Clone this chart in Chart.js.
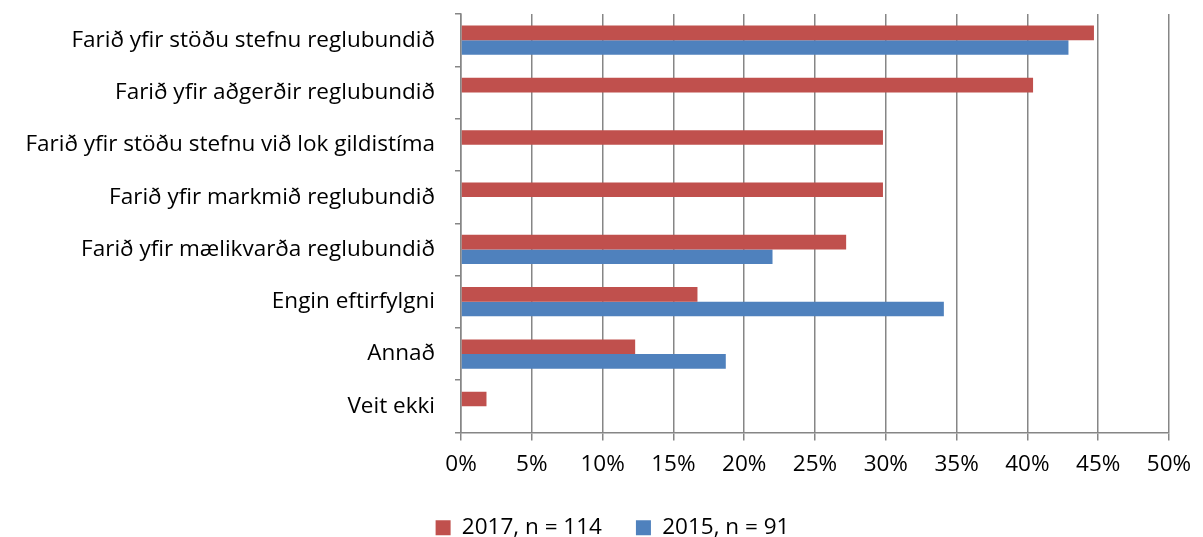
<!DOCTYPE html>
<html>
<head>
<meta charset="utf-8">
<script src="https://cdn.jsdelivr.net/npm/chart.js@4"></script>
<style>
  html, body { margin: 0; padding: 0; background: #fff; }
  #wrap { width: 1203px; height: 537px; }
</style>
</head>
<body>
<div id="wrap"><canvas id="chart" width="1203" height="537"></canvas></div>
<script>
const categories = [
  "Farið yfir stöðu stefnu reglubundið",
  "Farið yfir aðgerðir reglubundið",
  "Farið yfir stöðu stefnu við lok gildistíma",
  "Farið yfir markmið reglubundið",
  "Farið yfir mælikvarða reglubundið",
  "Engin eftirfylgni",
  "Annað",
  "Veit ekki",
];
const values2017 = [44.7, 40.4, 29.8, 29.8, 27.2, 16.7, 12.3, 1.8];
const values2015 = [42.9, null, null, null, 22.0, 34.1, 18.7, null];
const seriesLabels = ["2017, n = 114", "2015, n = 91"];
const seriesColors = ["#c0504d", "#4f81bd"];
const xTicks = [0, 5, 10, 15, 20, 25, 30, 35, 40, 45, 50];

const fontFamily = "'Open Sans', 'Noto Sans', sans-serif";
const fontSize = 22.5;
const gridGray = "#868686";

Chart.defaults.font.family = fontFamily;
Chart.defaults.color = "#000";

// the legend in the original sits a bit right of the canvas centre
const legendShift = {
  id: "legendShift",
  beforeDraw(chart) {
    chart.legend.left = 56;
  },
};

new Chart(document.querySelector("#chart"), {
  type: "bar",
  data: {
    labels: categories,
    datasets: [
      {
        label: seriesLabels[0],
        data: values2017,
        backgroundColor: seriesColors[0],
        borderWidth: 0,
        categoryPercentage: 0.56,
        barPercentage: 1.0,
      },
      {
        label: seriesLabels[1],
        data: values2015,
        backgroundColor: seriesColors[1],
        borderWidth: 0,
        categoryPercentage: 0.56,
        barPercentage: 1.0,
      },
    ],
  },
  options: {
    indexAxis: "y",
    responsive: false,
    animation: false,
    layout: {
      padding: { top: 14, right: 34, left: 0, bottom: -12 },
    },
    plugins: {
      legend: {
        position: "bottom",
        labels: {
          boxWidth: 15,
          boxHeight: 15,
          padding: 34,
          font: { size: fontSize },
          color: "#000",
        },
      },
      tooltip: { enabled: false },
    },
    scales: {
      x: {
        min: 0,
        max: 50,
        afterBuildTicks: (axis) => {
          axis.ticks = xTicks.map((value) => ({ value }));
        },
        afterFit: (axis) => {
          axis.height = 50;
        },
        ticks: {
          callback: (value) => `${value}%`,
          font: { size: fontSize },
          color: "#000",
          padding: 11,
          maxRotation: 0,
        },
        grid: {
          color: gridGray,
          lineWidth: 1.5,
          tickLength: 8,
        },
        border: { color: gridGray, width: 1.5 },
      },
      y: {
        afterFit: (axis) => {
          axis.width = 461;
          axis.paddingTop = 0;
          axis.paddingBottom = 0;
        },
        ticks: {
          font: { size: fontSize },
          color: "#000",
          padding: 20,
        },
        grid: {
          offset: true,
          drawOnChartArea: false,
          color: gridGray,
          lineWidth: 1.5,
          tickLength: 6,
        },
        border: { color: gridGray, width: 1.5 },
      },
    },
  },
  plugins: [legendShift],
});
</script>
</body>
</html>
